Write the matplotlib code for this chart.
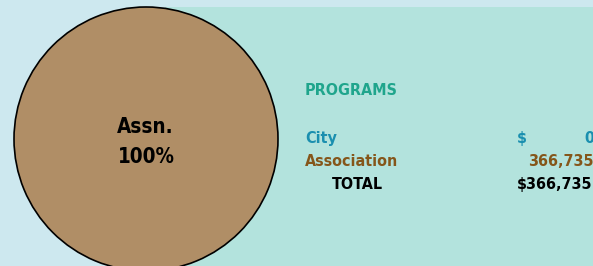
import matplotlib
matplotlib.use("Agg")
import matplotlib.pyplot as plt
from matplotlib.patches import Rectangle

# Data
categories = ["City", "Association"]
values = [0, 366735]
pie_labels = ["Assn.", "100%"]
title_text = "PROGRAMS"
total_label = "TOTAL"

W, H = 593, 266
fig = plt.figure(figsize=(W / 100, H / 100), dpi=100)
fig.patch.set_facecolor("#cde8ef")

def fx(x):
    return x / W

def fy(y):
    return 1 - y / H

# Teal panel
fig.patches.append(Rectangle((fx(165), 0), 1 - fx(165), fy(7), transform=fig.transFigure,
                             facecolor="#b3e3dd", edgecolor="none", zorder=-5))

# Pie
cx, cy, r = 146, 139, 132
ax = fig.add_axes([fx(cx - r), fy(cy + r), 2 * r / W, 2 * r / H])
ax.set_zorder(1)
ax.set_facecolor("none")
nz_vals = [v for v in values if v > 0]
wedges, texts = ax.pie(nz_vals, colors=["#b08e66"], startangle=90,
                       wedgeprops=dict(edgecolor="black", linewidth=1.2))
for w in wedges:
    w.set_clip_on(False)
ax.set_xlim(-1, 1)
ax.set_ylim(-1, 1)
ax.set_aspect("auto")
ax.axis("off")

pie_font = dict(family="DejaVu Sans", fontstretch="condensed", fontweight="bold", fontsize=14.8)
fig.text(fx(145), fy(133), pie_labels[0], ha="center", va="baseline", color="black", zorder=5, **pie_font)
fig.text(fx(146), fy(163), pie_labels[1], ha="center", va="baseline", color="black", zorder=5, **pie_font)

font = dict(family="DejaVu Sans", fontstretch="condensed", fontweight="bold", fontsize=11.5)

fig.text(fx(305), fy(95), title_text, color="#1fa58c", va="baseline", ha="left", **font)

colors = ["#1a8faf", "#85561a"]
baselines = [143, 166]
for i, (cat, v) in enumerate(zip(categories, values)):
    fig.text(fx(305), fy(baselines[i]), cat, color=colors[i], va="baseline", ha="left", **font)
    if i == 0:
        fig.text(fx(517), fy(baselines[i]), "$", color=colors[i], va="baseline", ha="left", **font)
    fig.text(fx(594), fy(baselines[i]), f"{v:,}", color=colors[i], va="baseline", ha="right", **font)

total = sum(values)
fig.text(fx(332), fy(189), total_label, color="black", va="baseline", ha="left", **font)
fig.text(fx(592), fy(189), f"${total:,}", color="black", va="baseline", ha="right", **font)

fig.savefig("out.png", dpi=100, facecolor=fig.get_facecolor())
